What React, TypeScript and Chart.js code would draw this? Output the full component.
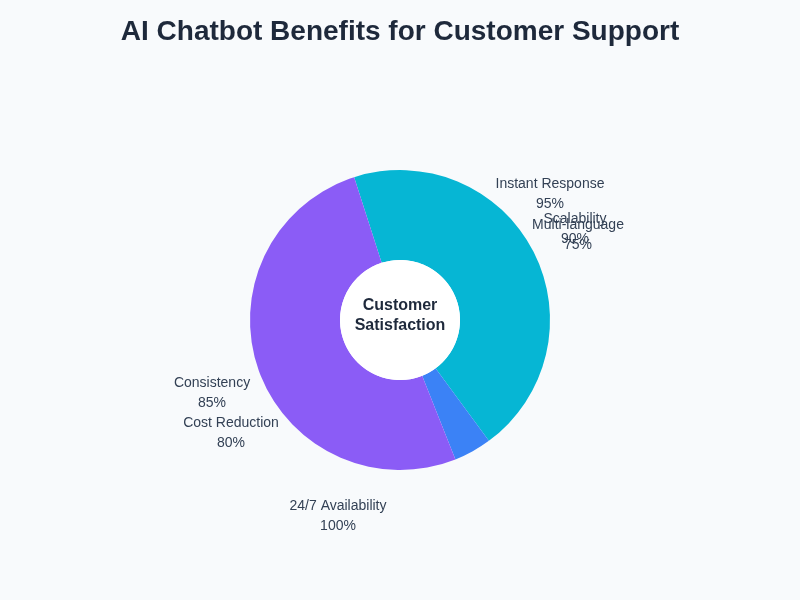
import React, { useEffect, useRef } from "react";
import { Chart, registerables } from "chart.js";

Chart.register(...registerables);

// Benefit ratings shown around the ring
const benefits = [
  "Instant Response",
  "Scalability",
  "Multi-language",
  "Consistency",
  "Cost Reduction",
  "24/7 Availability",
];
const benefitScores = [95, 90, 75, 85, 80, 100];

// Ring segments (share of the circle, in percent)
const segmentNames = ["Responsiveness", "Integration", "Efficiency"];
const segmentShares = [44.85, 4.07, 51.08];
const segmentColors = ["#06b6d4", "#3b82f6", "#8b5cf6"];

// Where each benefit label sits: angle clockwise from 12 o'clock (deg)
// and its distance beyond the outer edge of the ring (px)
const labelAngles = [49.75, 62.27, 64.21, 249.04, 236.47, 197.64];
const labelGaps = [46.5, 47.7, 47.7, 51.3, 52.7, 54.6];

const centerLines = ["Customer", "Satisfaction"];
const FONT = "'Liberation Sans', Arial, Helvetica, sans-serif";

const ringLabels = {
  id: "ringLabels",
  afterDatasetsDraw(chart: any) {
    const arc = chart.getDatasetMeta(0).data[0];
    if (!arc) return;
    const { x, y, innerRadius, outerRadius } = arc.getProps(
      ["x", "y", "innerRadius", "outerRadius"],
      true
    );
    const ctx = chart.ctx;
    ctx.save();

    // white hub with the centre caption
    ctx.beginPath();
    ctx.arc(x, y, innerRadius, 0, Math.PI * 2);
    ctx.fillStyle = "#ffffff";
    ctx.fill();

    ctx.textAlign = "center";
    ctx.textBaseline = "middle";
    ctx.fillStyle = "#1e293b";
    ctx.font = `bold 16px ${FONT}`;
    ctx.fillText(centerLines[0], x, y - 14);
    ctx.fillText(centerLines[1], x, y + 6);

    // benefit labels
    ctx.font = `14px ${FONT}`;
    ctx.fillStyle = "#334155";
    benefits.forEach((name, i) => {
      const a = (labelAngles[i] * Math.PI) / 180;
      const r = outerRadius + labelGaps[i];
      const lx = x + r * Math.sin(a);
      const ly = y - r * Math.cos(a);
      ctx.fillText(name, lx, ly - 9);
      ctx.fillText(`${benefitScores[i]}%`, lx, ly + 11);
    });
    ctx.restore();
  },
};

export default function App() {
  const canvasRef = useRef<HTMLCanvasElement | null>(null);

  useEffect(() => {
    if (!canvasRef.current) return;
    const chart = new Chart(canvasRef.current, {
      type: "doughnut",
      data: {
        labels: segmentNames,
        datasets: [
          {
            data: segmentShares,
            backgroundColor: segmentColors,
            borderWidth: 0,
            hoverOffset: 0,
          },
        ],
      },
      options: {
        responsive: false,
        animation: false,
        rotation: -17.8,
        cutout: "40%",
        layout: { padding: { top: 0, bottom: 130, left: 0, right: 0 } },
        plugins: {
          legend: { display: false },
          tooltip: { enabled: false },
          title: {
            display: true,
            text: "AI Chatbot Benefits for Customer Support",
            color: "#1e293b",
            font: { family: FONT, size: 28, weight: "bold" },
            padding: { top: 15, bottom: 121.4 },
          },
        },
      },
      plugins: [ringLabels],
    });
    return () => chart.destroy();
  }, []);

  return (
    <div
      style={{
        position: "fixed",
        left: 0,
        top: 0,
        width: 800,
        height: 600,
        background: "#f8fafc",
      }}
    >
      <canvas ref={canvasRef} width={800} height={600} />
    </div>
  );
}
